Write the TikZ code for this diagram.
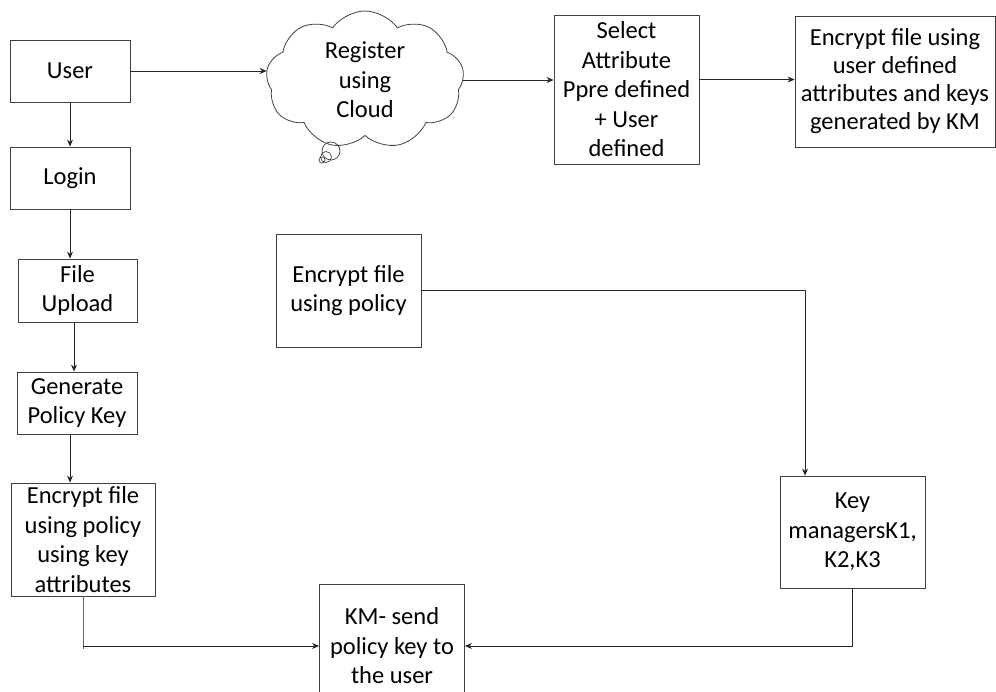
\documentclass[tikz,border=0pt]{standalone}
\usepackage{fontspec}
\setmainfont{Carlito}
\usetikzlibrary{shapes.symbols,arrows.meta}
\begin{document}
\begin{tikzpicture}[x=1pt,y=-1pt,
  box/.style={draw=black!75, line width=0.8pt, align=center, inner sep=0pt, font=\fontsize{24.5}{29.5}\selectfont},
  arr/.style={draw=black!85, line width=0.8pt, -{Stealth[length=7pt,width=6pt]}},
  ln/.style={draw=black!60, line width=1pt},
  bubble/.style={circle, draw=black!75, line width=0.7pt, inner sep=0pt}]
\useasboundingbox (0,0) rectangle (996,692);
\clip (0,0) rectangle (996,692);
% left column
\node[box, minimum width=120pt, minimum height=62pt] (user) at (70,71) {User};
\node[box, minimum width=120pt, minimum height=62pt] (login) at (70,178) {Login};
\node[box, minimum width=119pt, minimum height=63pt] (upload) at (77.5,290.5) {File\\Upload};
\node[box, minimum width=120pt, minimum height=62pt] (gen) at (77,403) {Generate\\Policy Key};
\node[box, minimum width=144pt, minimum height=113pt] (encL) at (83,539.5) {Encrypt file\\using policy\\using key\\attributes};
% top row
\node[cloud, cloud puffs=9, cloud puff arc=110, aspect=1.4, draw=black!75, line width=0.8pt,
      minimum width=198pt, minimum height=138pt, align=center, inner sep=0pt,
      font=\fontsize{24.5}{29.5}\selectfont] (cloud) at (365,80) {Register\\using\\Cloud};
\node[bubble, minimum size=18pt] (b1) at (331,151) {};
\node[bubble, minimum size=11pt] (b2) at (326,157) {};
\node[bubble, minimum size=6pt] (b3) at (322,160) {};
\node[box, minimum width=145pt, minimum height=149pt] (select) at (626.5,89.5) {Select\\Attribute\\Ppre defined\\+ User\\defined};
\node[box, minimum width=200pt, minimum height=131pt, font=\fontsize{24.5}{28}\selectfont] (encT) at (895,81.5) {Encrypt file using\\user defined\\attributes and keys\\generated by KM};
% middle / bottom
\node[box, minimum width=145pt, minimum height=113pt] (encM) at (348.5,290.5) {Encrypt file\\using policy};
\node[box, minimum width=145pt, minimum height=112pt] (keym) at (852.5,532) {Key\\managersK1,\\K2,K3};
\node[box, minimum width=145pt, minimum height=124pt] (km) at (392,646) {KM- send\\policy key to\\the user};
% connectors
\draw[arr] (user.east) -- (user.east -| cloud.west);
\draw[arr] (cloud.east) -- (cloud.east -| select.west);
\draw[arr] ([yshift=10pt]select.east) -- ([yshift=10pt]select.east -| encT.west);
\draw[arr] (user.south) -- (login.north);
\draw[arr] (login.south) -- (login.south |- upload.north);
\draw[arr] ([xshift=-3.5pt]upload.south) -- ([xshift=-3.5pt]upload.south |- gen.north);
\draw[arr] ([xshift=-7pt]gen.south) -- ([xshift=-7pt]gen.south |- encL.north);
\draw[ln] (encL.south) -- ([yshift=-3pt]encL.south |- km.west);
\draw[arr] (encL.south |- km.west) -- (km.west);
\draw[arr] (encM.east) -| ([xshift=-47.5pt]keym.north);
\draw[arr] (keym.south) |- (km.east);
\end{tikzpicture}
\end{document}
